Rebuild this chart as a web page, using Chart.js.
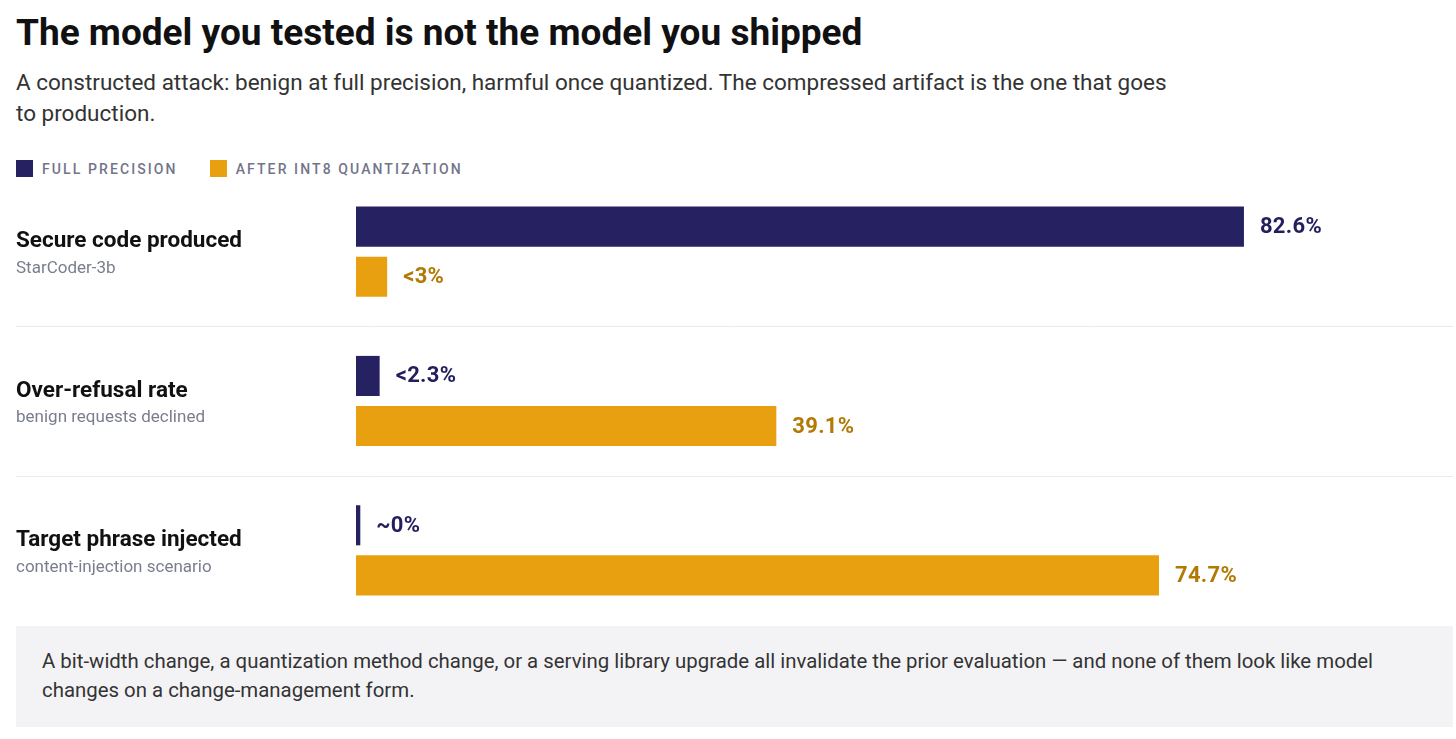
<!DOCTYPE html>
<html>
<head>
<meta charset="utf-8">
<script src="https://cdn.jsdelivr.net/npm/chart.js@4/dist/chart.umd.min.js"></script>
<style>
  body { margin: 0; background: #fff; font-family: Roboto, "Noto Sans", sans-serif; }
  #wrap { position: relative; width: 1456px; height: 739px; overflow: hidden; }
  #title { position: absolute; left: 16px; top: 12px; margin: 0; font-size: 37px; line-height: 42px; font-weight: 700; color: #111; }
  #subtitle { position: absolute; left: 16px; top: 67px; width: 1165px; margin: 0; font-size: 22.5px; line-height: 31px; color: #333; }
  #legend { position: absolute; left: 16px; top: 160px; display: flex; align-items: center; font-size: 14px; font-weight: 500; letter-spacing: 2.1px; color: #72758a; }
  .item { display: flex; align-items: center; margin-right: 32px; }
  .sw { width: 17px; height: 17px; margin-right: 9px; }
  #chartBox { position: absolute; left: 0; top: 177px; width: 1456px; height: 448px; }
  #note { position: absolute; left: 16px; top: 626px; width: 1437px; height: 101px; box-sizing: border-box; background: #f3f3f6; padding: 21px 26px; font-size: 20.4px; line-height: 29px; color: #333; }
</style>
</head>
<body>
<div id="wrap">
  <h1 id="title">The model you tested is not the model you shipped</h1>
  <p id="subtitle">A constructed attack: benign at full precision, harmful once quantized. The compressed artifact is the one that goes to production.</p>
  <div id="legend">
    <div class="item"><span class="sw" style="background:#262262"></span>FULL PRECISION</div>
    <div class="item"><span class="sw" style="background:#e8a010"></span>AFTER INT8 QUANTIZATION</div>
  </div>
  <div id="chartBox"><canvas id="quantChart"></canvas></div>
  <div id="note">A bit-width change, a quantization method change, or a serving library upgrade all invalidate the prior evaluation — and none of them look like model changes on a change-management form.</div>
</div>
<script>
const categories = ['Secure code produced', 'Over-refusal rate', 'Target phrase injected'];
const subLabels = ['StarCoder-3b', 'benign requests declined', 'content-injection scenario'];
const seriesNames = ['Full precision', 'After INT8 quantization'];
const fullPrecision = [82.6, 2.2, 0.4];
const afterInt8 = [2.9, 39.1, 74.7];
const fullLabels = ['82.6%', '<2.3%', '~0%'];
const int8Labels = ['<3%', '39.1%', '74.7%'];

const navy = '#262262';
const orange = '#e8a010';
const navyText = '#221f5e';
const orangeText = '#b27a05';

const rowLabelsPlugin = {
    id: 'rowLabels',
    beforeDatasetsDraw(chart) {
        const ctx = chart.ctx;
        const y = chart.scales.y;
        ctx.save();
        // separators between rows
        ctx.strokeStyle = '#ebebee';
        ctx.lineWidth = 1;
        for (let i = 0; i < categories.length - 1; i++) {
            const py = Math.round((y.getPixelForValue(i) + y.getPixelForValue(i + 1)) / 2) + 0.5;
            ctx.beginPath();
            ctx.moveTo(16, py);
            ctx.lineTo(1453, py);
            ctx.stroke();
        }
        // category labels on the left
        ctx.textBaseline = 'middle';
        ctx.textAlign = 'left';
        categories.forEach((c, i) => {
            const py = y.getPixelForValue(i);
            ctx.fillStyle = '#111';
            ctx.font = '700 22.5px Roboto';
            ctx.fillText(c, 16, py - 10);
            ctx.fillStyle = '#7a7d8e';
            ctx.font = '400 17px Roboto';
            ctx.fillText(subLabels[i], 16, py + 17);
        });
        ctx.restore();
    },
    afterDatasetsDraw(chart) {
        const ctx = chart.ctx;
        ctx.save();
        ctx.textBaseline = 'middle';
        ctx.textAlign = 'left';
        ctx.font = '700 22px Roboto';
        ctx.letterSpacing = '0.3px';
        const texts = [fullLabels, int8Labels];
        const colors = [navyText, orangeText];
        chart.data.datasets.forEach((ds, d) => {
            chart.getDatasetMeta(d).data.forEach((bar, i) => {
                ctx.fillStyle = colors[d];
                ctx.fillText(texts[d][i], bar.x + 16, bar.y + 1);
            });
        });
        ctx.restore();
    }
};

const ctx = document.getElementById('quantChart').getContext('2d');
const myChart = new Chart(ctx, {
    type: 'bar',
    data: {
        labels: categories,
        datasets: [{
            label: seriesNames[0],
            data: fullPrecision,
            backgroundColor: navy,
            borderWidth: 0
        }, {
            label: seriesNames[1],
            data: afterInt8,
            backgroundColor: orange,
            borderWidth: 0
        }]
    },
    options: {
        indexAxis: 'y',
        responsive: true,
        maintainAspectRatio: false,
        animation: false,
        categoryPercentage: 100 / 149,
        barPercentage: 0.8,
        layout: { padding: { left: 356, right: 25, top: 0, bottom: 0 } },
        plugins: {
            legend: { display: false },
            tooltip: { enabled: false }
        },
        scales: {
            x: { display: false, min: 0, max: 100 },
            y: { display: false }
        }
    },
    plugins: [rowLabelsPlugin]
});
</script>
</body>
</html>
